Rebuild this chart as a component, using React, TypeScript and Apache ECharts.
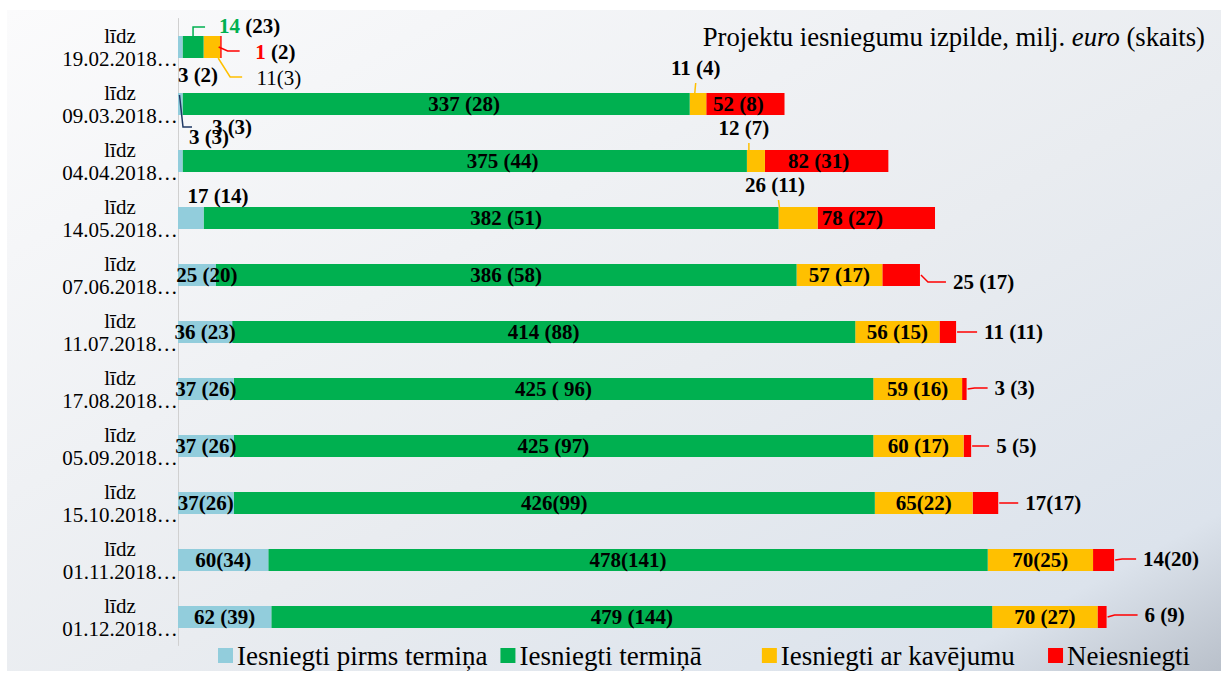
import React, { useEffect, useRef } from "react";
import * as echarts from "echarts";

// ---------- data ----------
const dates = [
  "19.02.2018", "09.03.2018", "04.04.2018", "14.05.2018", "07.06.2018", "11.07.2018",
  "17.08.2018", "05.09.2018", "15.10.2018", "01.11.2018", "01.12.2018",
];
const seriesNames = ["Iesniegti pirms termiņa", "Iesniegti termiņā", "Iesniegti ar kavējumu", "Neiesniegti"];

const beforeValues = [3, 3, 3, 17, 25, 36, 37, 37, 37, 60, 62];
const beforeCounts = [2, 3, 3, 14, 20, 23, 26, 26, 26, 34, 39];
const onTimeValues = [14, 337, 375, 382, 386, 414, 425, 425, 426, 478, 479];
const onTimeCounts = [23, 28, 44, 51, 58, 88, 96, 97, 99, 141, 144];
const lateValues = [11, 11, 12, 26, 57, 56, 59, 60, 65, 70, 70];
const lateCounts = [3, 4, 7, 11, 17, 15, 16, 17, 22, 25, 27];
const notValues = [1, 52, 82, 78, 25, 11, 3, 5, 17, 14, 6];
const notCounts = [2, 8, 31, 27, 17, 11, 3, 5, 17, 20, 9];

const titleText = "Projektu iesniegumu izpilde, milj. {i|euro} (skaits)";

// ---------- styles ----------
const values = [beforeValues, onTimeValues, lateValues, notValues];
const counts = [beforeCounts, onTimeCounts, lateCounts, notCounts];
const colors = ["#92CDDC", "#00B050", "#FFC000", "#FF0000"];
const FONT = "'Liberation Serif', 'Times New Roman', serif";
const BAR_H = 22;
const compactRows = [8, 9];
const legendPad = [0, 7, 3, 0]; // extra trailing spaces per legend item

function labelText(s: number, r: number): string {
  const v = values[s][r];
  const c = counts[s][r];
  if (s === 1 && r === 6) return `${v} ( ${c})`;
  if (s === 2 && r === 0) return `${v}(${c})`;
  if (s === 1 && r === 0) return `{g|${v}} (${c})`;
  if (s === 3 && r === 0) return `{r|${v}} (${c})`;
  return compactRows.includes(r) ? `${v}(${c})` : `${v} (${c})`;
}

type Spec = {
  pos?: [number, number];
  align?: string;
  offset?: [number, number];
  right?: number;
  dy?: number;
  normal?: boolean;
};
const specs: Record<string, Spec> = {
  "0-0": { pos: [20, 39] },
  "0-1": { pos: [31, 44] },
  "0-2": { pos: [54, -23] },
  "0-3": { pos: [40, -11] },
  "0-4": { offset: [10, 0] },
  "1-0": { pos: [36.5, -10], align: "left" },
  "1-1": { offset: [28, 0] },
  "1-2": { offset: [38, 0] },
  "1-3": { offset: [15, 0] },
  "2-0": { pos: [53, 42], align: "left", normal: true },
  "2-1": { pos: [6, -25] },
  "2-2": { pos: [-3, -22] },
  "2-3": { pos: [-3.5, -22] },
  "3-0": { pos: [35, 16], align: "left" },
  "3-1": { offset: [-7, 0] },
  "3-2": { offset: [-8, 0] },
  "3-3": { offset: [-24, 0] },
  "3-4": { right: 33, dy: 7 },
  "3-5": { right: 28, dy: 0 },
  "3-6": { right: 28, dy: -1 },
  "3-7": { right: 25, dy: 0 },
  "3-8": { right: 27, dy: 0 },
  "3-9": { right: 29, dy: -1 },
  "3-10": { right: 38, dy: -2 },
};

type Box = { x0: number; x1: number; y0: number; y1: number; cx: number; cy: number };
type Leader = { s: number; r: number; color: string; pts: (b: Box) => number[][] };
const leaders: Leader[] = [
  { s: 0, r: 1, color: "#1F3864", pts: (b) => [[b.x0 + 1.5, b.y0 + 2], [b.x0 + 5, b.cy + 23], [b.x0 + 14, b.cy + 23]] },
  { s: 1, r: 0, color: "#00B050", pts: (b) => [[b.cx, b.y0], [b.cx, b.cy - 20], [b.cx + 12, b.cy - 20]] },
  { s: 2, r: 0, color: "#FFC000", pts: (b) => [[b.x1 - 2, b.y1], [b.x1 + 10, b.cy + 30], [b.x1 + 22, b.cy + 30]] },
  { s: 3, r: 0, color: "#FF0000", pts: (b) => [[b.x1 - 3, b.cy], [b.x1 + 6, b.cy + 4], [b.x1 + 18, b.cy + 4]] },
  { s: 2, r: 1, color: "#FFC000", pts: (b) => [[b.x0 + 5, b.y0 + 1], [b.x0 + 6, b.cy - 21]] },
  { s: 2, r: 2, color: "#FFC000", pts: (b) => [[b.x0 + 2, b.y0 + 2], [b.x0 + 2, b.cy - 18]] },
  { s: 2, r: 3, color: "#FFC000", pts: (b) => [[b.x0 + 1, b.y0 + 1], [b.x0, b.cy - 18]] },
];
for (let r = 4; r < dates.length; r++) {
  const sp = specs[`3-${r}`];
  const gap = sp.right as number;
  const dy = sp.dy as number;
  leaders.push({
    s: 3,
    r,
    color: "#FF0000",
    pts: (b) => [[b.x1 + 1, b.cy], [b.x1 + 8, b.cy + dy], [b.x1 + gap - 7, b.cy + dy]],
  });
}

const labelBase = {
  show: true,
  fontFamily: FONT,
  fontSize: 21,
  fontWeight: "bold",
  color: "#000",
  rich: {
    g: { color: "#00B050", fontFamily: FONT, fontSize: 21, fontWeight: "bold" },
    r: { color: "#FF0000", fontFamily: FONT, fontSize: 21, fontWeight: "bold" },
  },
};

function buildData(s: number) {
  return values[s].map((v, r) => {
    const sp = specs[`${s}-${r}`] || {};
    const label: any = { ...labelBase, formatter: labelText(s, r) };
    if (sp.pos) {
      label.position = sp.pos;
      label.align = sp.align || "center";
      label.verticalAlign = "middle";
    } else if (sp.right !== undefined) {
      label.position = "right";
      label.distance = sp.right;
      label.offset = [0, sp.dy || 0];
    } else {
      label.position = "inside";
      if (sp.offset) label.offset = sp.offset;
    }
    if (sp.normal) label.fontWeight = "normal";
    return { value: v, label };
  });
}

const baseGraphic: any[] = [
  {
    id: "bg",
    type: "rect",
    z: -100,
    silent: true,
    shape: { x: 7, y: 10, width: 1214, height: 661 },
    style: {
      fill: new echarts.graphic.LinearGradient(0, 0, 1, 1, [
        { offset: 0, color: "#fbfbfc" },
        { offset: 0.55, color: "#e9ecf0" },
        { offset: 0.88, color: "#dce3ec" },
        { offset: 1, color: "#b9c0ca" },
      ]),
    },
  },
  {
    id: "title",
    type: "text",
    x: 1205,
    y: 37,
    z: 10,
    style: {
      text: titleText,
      fontFamily: FONT,
      fontSize: 26.7,
      fill: "#000",
      align: "right",
      verticalAlign: "middle",
      rich: { i: { fontFamily: FONT, fontSize: 26.7, fontStyle: "italic", fill: "#000" } },
    },
  },
];

export default function App() {
  const ref = useRef<HTMLDivElement>(null);
  useEffect(() => {
    if (!ref.current) return;
    const chart = echarts.init(ref.current, undefined, { renderer: "svg" });
    chart.setOption({
      animation: false,
      grid: { left: 178, top: 18.5, height: 627, width: 1023.4, containLabel: false },
      xAxis: {
        type: "value",
        min: 0,
        max: 680,
        show: false,
        splitLine: { show: false },
      },
      yAxis: {
        type: "category",
        data: dates,
        inverse: true,
        axisLine: { show: true, lineStyle: { color: "#d0d0d0", width: 1 } },
        axisTick: { show: false },
        axisLabel: {
          formatter: (v: string) => `līdz\n${v}…`,
          fontFamily: FONT,
          fontSize: 21,
          lineHeight: 23,
          color: "#000",
          align: "center",
          margin: 58,
        },
      },
      legend: {
        data: seriesNames,
        left: 218,
        top: 642,
        padding: 0,
        itemWidth: 15,
        itemHeight: 15,
        itemGap: 13,
        icon: "rect",
        formatter: (name: string) => name + " ".repeat(legendPad[seriesNames.indexOf(name)] || 0),
        textStyle: { fontFamily: FONT, fontSize: 27, color: "#000", padding: [0, 0, 0, -1] },
      },
      graphic: baseGraphic,
      series: seriesNames.map((name, s) => ({
        name,
        type: "bar",
        stack: "total",
        barWidth: BAR_H,
        itemStyle: { color: colors[s] },
        z: 10 - s,
        data: buildData(s),
      })),
    });

    const px = (v: number, r: number) =>
      chart.convertToPixel({ xAxisIndex: 0, yAxisIndex: 0 }, [v, r]) as number[];
    const lines = leaders.map((ld, i) => {
      let start = 0;
      for (let k = 0; k < ld.s; k++) start += values[k][ld.r];
      const end = start + values[ld.s][ld.r];
      const p0 = px(start, ld.r);
      const p1 = px(end, ld.r);
      const cy = p0[1];
      const box: Box = {
        x0: p0[0],
        x1: p1[0],
        y0: cy - BAR_H / 2,
        y1: cy + BAR_H / 2,
        cx: (p0[0] + p1[0]) / 2,
        cy,
      };
      return {
        id: `leader${i}`,
        type: "polyline",
        z: 20,
        silent: true,
        shape: { points: ld.pts(box) },
        style: { stroke: ld.color, lineWidth: 1.5, fill: null },
      };
    });
    chart.setOption({ graphic: [...baseGraphic, ...lines] });

    return () => chart.dispose();
  }, []);
  return (
    <div
      ref={ref}
      style={{ position: "fixed", left: 0, top: 0, width: 1221, height: 673, background: "#fff" }}
    />
  );
}
